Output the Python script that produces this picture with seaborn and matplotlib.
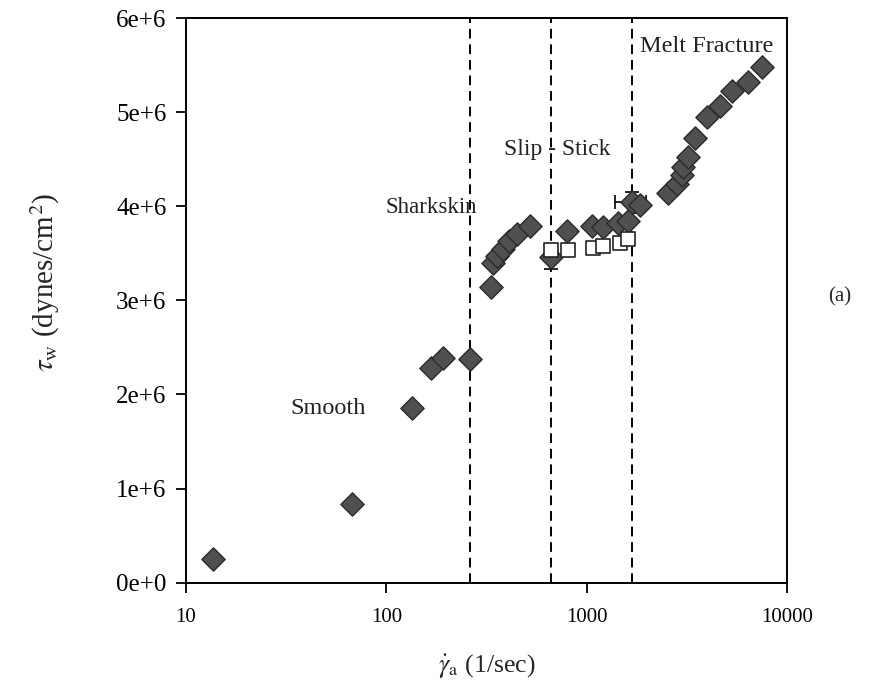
import matplotlib
matplotlib.use("Agg")
import matplotlib.pyplot as plt
import seaborn as sns
import pandas as pd
import numpy as np

# ---- data ----
diamond_rate = [13.6, 67.3, 135, 168, 192, 261,
                334, 341, 358, 380, 410, 450, 520,
                662, 802, 1057, 1208, 1435, 1610, 1675, 1841,
                2553, 2812, 2978, 3035, 3210, 3467, 3966, 4623, 5289, 6401, 7466]
diamond_stress = [0.25e6, 0.84e6, 1.86e6, 2.28e6, 2.39e6, 2.38e6,
                  3.14e6, 3.40e6, 3.47e6, 3.55e6, 3.63e6, 3.71e6, 3.79e6,
                  3.46e6, 3.74e6, 3.79e6, 3.78e6, 3.82e6, 3.84e6, 4.04e6, 4.01e6,
                  4.14e6, 4.24e6, 4.33e6, 4.42e6, 4.52e6, 4.72e6, 4.95e6, 5.06e6, 5.22e6, 5.32e6, 5.48e6]

square_rate = [662, 807, 1077, 1208, 1462, 1610]
square_stress = [3.53e6, 3.54e6, 3.56e6, 3.58e6, 3.61e6, 3.65e6]

# error bars (x, y, xerr, yerr)
err_x = [662, 662, 1675]
err_y = [3.46e6, 3.53e6, 4.04e6]
err_xerr = [0, 0, 295]
err_yerr = [0.125e6, 0.025e6, 0.11e6]

boundaries = [263, 667, 1675]
regimes = ["Smooth", "Sharkskin", "Slip - Stick", "Melt Fracture"]
regime_x = [51, 168, 710, 3955]
regime_y = [1.85e6, 3.99e6, 4.60e6, 5.70e6]

yticks = [0, 1e6, 2e6, 3e6, 4e6, 5e6, 6e6]
ytick_labels = ["0e+0", "1e+6", "2e+6", "3e+6", "4e+6", "5e+6", "6e+6"]
xticks = [10, 100, 1000, 10000]
xtick_labels = ["10", "100", "1000", "10000"]

# ---- style ----
sns.set_theme(style="white")
plt.rcParams['font.family'] = ['Liberation Serif', 'DejaVu Serif']
plt.rcParams['mathtext.fontset'] = 'stix'

fig = plt.figure(figsize=(8.87, 6.96), dpi=100)
ax = fig.add_axes([0.2097, 0.1628, 0.6776, 0.8113])

df_d = pd.DataFrame({"rate": diamond_rate, "stress": diamond_stress})
df_s = pd.DataFrame({"rate": square_rate, "stress": square_stress})

for b in boundaries:
    ax.axvline(b, color="black", linestyle=(0, (5, 3)), linewidth=1.4, zorder=1)

ax.errorbar(err_x, err_y, xerr=err_xerr, yerr=err_yerr, fmt="none",
            ecolor="black", elinewidth=1.2, capsize=5, capthick=1.2, zorder=2)

sns.scatterplot(data=df_d, x="rate", y="stress", marker="D", s=140,
                color="#505050", edgecolor="#2a2a2a", linewidth=1.0, ax=ax, zorder=3)
sns.scatterplot(data=df_s, x="rate", y="stress", marker="s", s=90,
                color="white", edgecolor="#222222", linewidth=1.2, ax=ax, zorder=4)

ax.set_xscale("log")
ax.set_xlim(10, 10000)
ax.set_ylim(0, 6e6)
ax.set_xticks(xticks)
ax.set_xticklabels(xtick_labels)
ax.set_yticks(yticks)
ax.set_yticklabels(ytick_labels)
ax.minorticks_off()
ax.tick_params(axis="both", which="major", direction="out", length=7, width=1.3,
               colors="black", bottom=True, left=True)
ax.tick_params(axis="x", labelsize=15, pad=11)
ax.tick_params(axis="y", labelsize=18, pad=7)
for sp in ax.spines.values():
    sp.set_visible(True)
    sp.set_color("black")
    sp.set_linewidth(1.4)

ax.set_xlabel(r"$\dot{\gamma}_{\mathrm{a}}$ (1/sec)", fontsize=18.5, labelpad=19)
ax.set_ylabel(r"$\tau_{\mathrm{w}}$ (dynes/cm$^2$)", fontsize=21)
ax.yaxis.set_label_coords(-0.207, 0.532)

for name, tx, ty, fs in zip(regimes, regime_x, regime_y, [17.5, 16.5, 17, 17.5]):
    ax.text(tx, ty, name, fontsize=fs, ha="center", va="center", color="#222222")

fig.text(0.947, 0.573, "(a)", fontsize=15, ha="center", va="center")

fig.savefig("out.png", dpi=100)
